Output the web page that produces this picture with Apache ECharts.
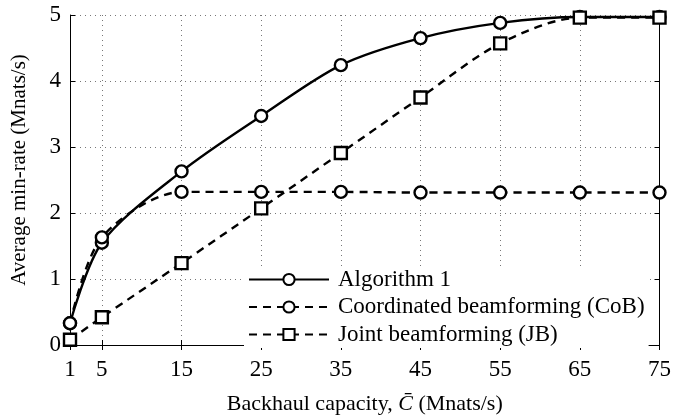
<!DOCTYPE html>
<html>
<head>
<meta charset="utf-8">
<script src="https://cdn.jsdelivr.net/npm/echarts@6/dist/echarts.min.js"></script>
<style>html,body{margin:0;padding:0;background:#fff;}#c{width:674px;height:420px;}</style>
</head>
<body>
<div id="c"></div>
<script>
const capacities = [1, 5, 15, 25, 35, 45, 55, 65, 75];
const xTickValues = [1, 5, 15, 25, 35, 45, 55, 65, 75];
const algorithm1 = [0.33, 1.55, 2.63, 3.47, 4.24, 4.65, 4.88, 4.97, 4.97];
const coordinated = [0.33, 1.63, 2.32, 2.32, 2.32, 2.31, 2.31, 2.31, 2.31];
const joint = [0.08, 0.42, 1.24, 2.07, 2.91, 3.75, 4.57, 4.96, 4.96];
const seriesNames = ['Algorithm 1', 'Coordinated beamforming (CoB)', 'Joint beamforming (JB)'];

const FONT = 'Liberation Serif';
const chart = echarts.init(document.getElementById('c'), null, {renderer: 'canvas'});
const pairs = arr => capacities.map((c, i) => [c, arr[i]]);
const tick = {show: true, inside: true, length: 5, lineStyle: {color: '#000', width: 1}};
const axLine = {show: true, lineStyle: {color: '#000', width: 1}};
const grid = {show: true, lineStyle: {color: '#777', width: 1, type: [1, 4]}};

function mkSeries(name, data, symbol, dashed) {
  return {
    name, type: 'line', data: pairs(data), smooth: 0.3,
    symbol, symbolSize: 12,
    lineStyle: {color: '#000', width: 2.4, type: dashed ? [8, 6] : 'solid'},
    itemStyle: {color: '#fff', borderColor: '#000', borderWidth: 2.4},
    emphasis: {disabled: true}, z: 3
  };
}

chart.setOption({
  animation: false,
  backgroundColor: '#fff',
  textStyle: {fontFamily: FONT},
  grid: {left: 70, right: 13, top: 15, bottom: 66},
  legend: {
    left: 244, top: 266, orient: 'vertical',
    itemWidth: 80, itemHeight: 14, itemGap: 4.5,
    backgroundColor: '#fff', padding: [2, 4, 2, 4],
    textStyle: {fontFamily: FONT, fontSize: 23, color: '#000', lineHeight: 23, padding: [0, 0, 0, 4]},
    data: seriesNames
  },
  xAxis: [{
    type: 'value', min: 1, max: 75, position: 'bottom',
    axisLine: axLine,
    axisTick: Object.assign({customValues: xTickValues}, tick),
    axisLabel: {customValues: xTickValues, fontFamily: FONT, fontSize: 23, color: '#000', margin: 13},
    splitLine: grid,
    name: 'Backhaul capacity, {i|C\u0304} (Mnats/s)', nameLocation: 'middle', nameGap: 48,
    nameTextStyle: {fontFamily: FONT, fontSize: 22, color: '#000',
      rich: {i: {fontFamily: FONT, fontSize: 22, fontStyle: 'italic', color: '#000'}}}
  }, {
    type: 'value', min: 1, max: 75, position: 'top',
    axisLine: axLine,
    axisTick: Object.assign({customValues: xTickValues}, tick),
    axisLabel: {show: false}, splitLine: {show: false}
  }],
  yAxis: [{
    type: 'value', min: 0, max: 5, interval: 1, position: 'left',
    axisLine: axLine, axisTick: tick,
    axisLabel: {fontFamily: FONT, fontSize: 23, color: '#000', margin: 9},
    splitLine: grid,
    name: 'Average min-rate (Mnats/s)', nameLocation: 'middle', nameGap: 40,
    nameTextStyle: {fontFamily: FONT, fontSize: 21, color: '#000', padding: [0, 0, 0, 20]}
  }, {
    type: 'value', min: 0, max: 5, interval: 1, position: 'right',
    axisLine: axLine, axisTick: tick,
    axisLabel: {show: false}, splitLine: {show: false}
  }],
  series: [
    mkSeries(seriesNames[0], algorithm1, 'circle', false),
    mkSeries(seriesNames[1], coordinated, 'circle', true),
    mkSeries(seriesNames[2], joint, 'rect', true)
  ]
});
</script>
</body>
</html>
